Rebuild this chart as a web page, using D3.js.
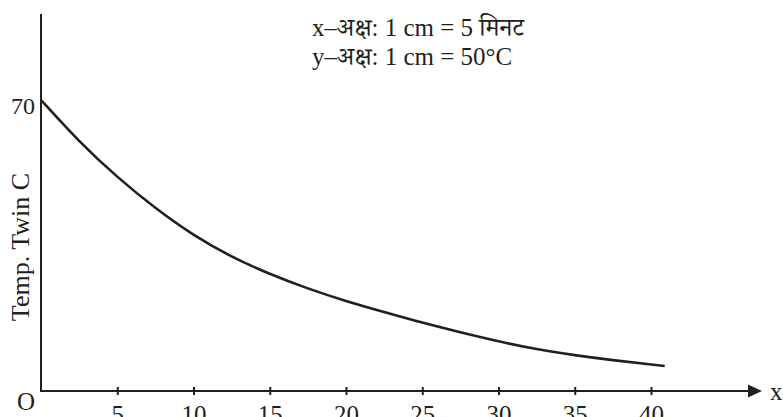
<!DOCTYPE html>
<html>
<head>
<meta charset="utf-8">
<script src="https://cdn.jsdelivr.net/npm/d3@7"></script>
<style>
  html, body { margin: 0; padding: 0; background: #fff; }
  svg { display: block; }
  text { font-family: "Liberation Serif", "Times New Roman", "Noto Serif Devanagari", "Noto Sans Devanagari", "Lohit Devanagari", serif; fill: #231f20; }
</style>
</head>
<body>
<svg id="chart" width="783" height="417"></svg>
<script>
// ---- data ----
const timeMin = [0, 2.5, 5, 7.5, 10, 12.5, 15, 17.5, 20, 22.5, 25, 27.5, 30, 32.5, 35, 37.5, 40, 40.9];
const tempC   = [70, 59.9, 51.4, 43.9, 37.4, 32.2, 28.1, 24.6, 21.6, 19.0, 16.4, 14.1, 11.9, 10.0, 8.6, 7.4, 6.4, 6.0];
const xTicks = [5, 10, 15, 20, 25, 30, 35, 40];
const yTicks = [70];
const titleLines = ["x–अक्ष: 1 cm = 5 मिनट", "y–अक्ष: 1 cm = 50°C"];
const yLabel = "Temp. Twin C";
const xLabel = "x";
const originLabel = "O";

const ink = "#231f20";
const svg = d3.select("#chart");

const x = d3.scaleLinear().domain([0, 40]).range([41, 651]);
const y = d3.scaleLinear().domain([0, 70]).range([391, 100]);
const y0 = y(0);

// y axis line
svg.append("line")
  .attr("x1", x(0)).attr("x2", x(0))
  .attr("y1", 14).attr("y2", y0)
  .attr("stroke", ink).attr("stroke-width", 2);

// x axis line with arrow
svg.append("line")
  .attr("x1", x(0) - 1).attr("x2", 750)
  .attr("y1", y0).attr("y2", y0)
  .attr("stroke", ink).attr("stroke-width", 2);
svg.append("path")
  .attr("d", `M748,${y0 - 6.5} L762,${y0} L748,${y0 + 6.5} Z`)
  .attr("fill", ink);

// x ticks via d3 axis
const xAxis = d3.axisBottom(x).tickValues(xTicks).tickSize(0).tickPadding(0).tickFormat(d3.format("d"));
const gx = svg.append("g").attr("transform", `translate(0,${y0})`).call(xAxis);
gx.select(".domain").remove();
gx.selectAll(".tick").append("line")
  .attr("y1", -4).attr("y2", 4)
  .attr("stroke", ink).attr("stroke-width", 2);
gx.selectAll(".tick text")
  .attr("y", 32).attr("dy", null)
  .style("font-size", "25px")
  .attr("fill", ink);

// y tick label
const yAxis = d3.axisLeft(y).tickValues(yTicks).tickSize(0).tickPadding(6).tickFormat(d3.format("d"));
const gy = svg.append("g").attr("transform", `translate(${x(0)},0)`).call(yAxis);
gy.select(".domain").remove();
gy.selectAll(".tick text")
  .attr("dy", "0.58em")
  .style("font-size", "24px")
  .attr("fill", ink);

// curve
const line = d3.line()
  .x((d, i) => x(timeMin[i]))
  .y((d, i) => y(tempC[i]))
  .curve(d3.curveBasis);
svg.append("path")
  .datum(tempC)
  .attr("d", line)
  .attr("fill", "none")
  .attr("stroke", ink)
  .attr("stroke-width", 2.6);

// labels
svg.append("text").attr("x", 26).attr("y", 410).attr("text-anchor", "middle")
  .style("font-size", "25px").text(originLabel);
svg.append("text").attr("x", 770).attr("y", 400)
  .style("font-size", "25px").text(xLabel);
svg.append("text")
  .attr("transform", "translate(29,247) rotate(-90)")
  .attr("text-anchor", "middle")
  .style("font-size", "26px").text(yLabel);

svg.selectAll(".title").data(titleLines).enter().append("text")
  .attr("class", "title")
  .attr("x", 312).attr("y", (d, i) => 36 + i * 29)
  .style("font-size", "25px")
  .text(d => d);
</script>
</body>
</html>
